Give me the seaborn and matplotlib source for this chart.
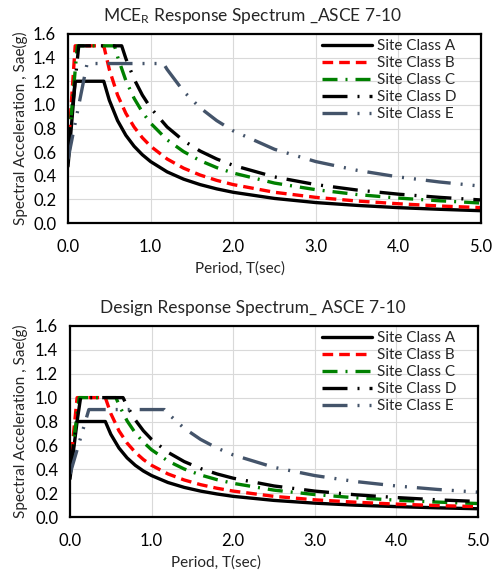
import matplotlib
matplotlib.use("Agg")
import matplotlib.pyplot as plt
import pandas as pd
import seaborn as sns

SITE_CLASSES = ["Site Class A", "Site Class B", "Site Class C", "Site Class D", "Site Class E"]

# Periods (s) and spectral accelerations (g) for each site class
PERIOD_A = [0.0, 0.087, 0.433, 0.5, 0.6, 0.7, 0.8, 0.9, 1.0, 1.2, 1.4, 1.6, 1.8, 2.0, 2.5, 3.0, 3.5, 4.0, 4.5, 5.0]
MCE_A = [0.48, 1.2, 1.2, 1.04, 0.867, 0.743, 0.65, 0.578, 0.52, 0.433, 0.371, 0.325, 0.289, 0.26, 0.208, 0.173, 0.149, 0.13, 0.116, 0.104]
DES_A = [0.32, 0.8, 0.8, 0.693, 0.578, 0.495, 0.433, 0.385, 0.347, 0.289, 0.248, 0.217, 0.193, 0.173, 0.139, 0.116, 0.099, 0.087, 0.077, 0.069]

PERIOD_B = [0.0, 0.087, 0.433, 0.5, 0.6, 0.7, 0.8, 0.9, 1.0, 1.2, 1.4, 1.6, 1.8, 2.0, 2.5, 3.0, 3.5, 4.0, 4.5, 5.0]
MCE_B = [0.6, 1.5, 1.5, 1.3, 1.083, 0.929, 0.813, 0.722, 0.65, 0.542, 0.464, 0.406, 0.361, 0.325, 0.26, 0.217, 0.186, 0.163, 0.144, 0.13]
DES_B = [0.4, 1.0, 1.0, 0.867, 0.722, 0.619, 0.542, 0.481, 0.433, 0.361, 0.31, 0.271, 0.241, 0.217, 0.173, 0.144, 0.124, 0.108, 0.096, 0.087]

PERIOD_C = [0.0, 0.113, 0.563, 0.6, 0.7, 0.8, 0.9, 1.0, 1.2, 1.4, 1.6, 1.8, 2.0, 2.5, 3.0, 3.5, 4.0, 4.5, 5.0]
MCE_C = [0.6, 1.5, 1.5, 1.408, 1.207, 1.056, 0.939, 0.845, 0.704, 0.604, 0.528, 0.469, 0.423, 0.338, 0.282, 0.241, 0.211, 0.188, 0.169]
DES_C = [0.4, 1.0, 1.0, 0.939, 0.805, 0.704, 0.626, 0.563, 0.469, 0.402, 0.352, 0.313, 0.282, 0.225, 0.188, 0.161, 0.141, 0.125, 0.113]

PERIOD_D = [0.0, 0.13, 0.65, 0.7, 0.8, 0.9, 1.0, 1.2, 1.4, 1.6, 1.8, 2.0, 2.5, 3.0, 3.5, 4.0, 4.5, 5.0]
MCE_D = [0.6, 1.5, 1.5, 1.393, 1.219, 1.083, 0.975, 0.813, 0.696, 0.609, 0.542, 0.488, 0.39, 0.325, 0.279, 0.244, 0.217, 0.195]
DES_D = [0.4, 1.0, 1.0, 0.929, 0.813, 0.722, 0.65, 0.542, 0.464, 0.406, 0.361, 0.325, 0.26, 0.217, 0.186, 0.163, 0.144, 0.13]

PERIOD_E = [0.0, 0.231, 1.156, 1.2, 1.4, 1.6, 1.8, 2.0, 2.5, 3.0, 3.5, 4.0, 4.5, 5.0]
MCE_E = [0.54, 1.35, 1.35, 1.3, 1.114, 0.975, 0.867, 0.78, 0.624, 0.52, 0.446, 0.39, 0.347, 0.312]
DES_E = [0.36, 0.9, 0.9, 0.867, 0.743, 0.65, 0.578, 0.52, 0.416, 0.347, 0.297, 0.26, 0.231, 0.208]

X_TICKS = [0.0, 1.0, 2.0, 3.0, 4.0, 5.0]
Y_TICKS = [0.0, 0.2, 0.4, 0.6, 0.8, 1.0, 1.2, 1.4, 1.6]

COLORS = {
    "Site Class A": "#000000",
    "Site Class B": "#FF0000",
    "Site Class C": "#008000",
    "Site Class D": "#000000",
    "Site Class E": "#44546A",
}
DASHES = {
    "Site Class A": "",
    "Site Class B": (3.2, 1.8),
    "Site Class C": (4.5, 2.4, 0.6, 2.4),
    "Site Class D": (7.5, 3.0, 0.6, 3.0),
    "Site Class E": (7.5, 3.0, 0.6, 3.0, 0.6, 3.0),
}


def build_frame(periods, values):
    parts = []
    for name, t, sa in zip(SITE_CLASSES, periods, values):
        parts.append(pd.DataFrame({"T": t, "Sa": sa, "Site": name}))
    return pd.concat(parts, ignore_index=True)


periods = [PERIOD_A, PERIOD_B, PERIOD_C, PERIOD_D, PERIOD_E]
mce = build_frame(periods, [MCE_A, MCE_B, MCE_C, MCE_D, MCE_E])
design = build_frame(periods, [DES_A, DES_B, DES_C, DES_D, DES_E])

sns.set_style("white")
plt.rcParams["font.family"] = ["Lato", "DejaVu Sans"]
plt.rcParams["mathtext.default"] = "regular"

fig = plt.figure(figsize=(4.95, 5.71), dpi=100)
W, H = 495, 571
ax_top = fig.add_axes([68 / W, 1 - 223 / H, (481 - 68) / W, (223 - 34) / H])
ax_bot = fig.add_axes([70 / W, 1 - 517 / H, (478 - 70) / W, (517 - 326) / H])

panels = [
    (ax_top, mce, "MCE$_{R}$ Response Spectrum _ASCE 7-10", 240),
    (ax_bot, design, "Design Response Spectrum_ ASCE 7-10", 216),
]

for ax, df, title, xlabel_px in panels:
    sns.lineplot(data=df, x="T", y="Sa", hue="Site", style="Site",
                 palette=COLORS, dashes=DASHES, linewidth=2.4,
                 estimator=None, sort=False, ax=ax)
    ax.set_xlim(0, 5)
    ax.set_ylim(0, 1.6)
    ax.set_xticks(X_TICKS)
    ax.set_yticks(Y_TICKS)
    ax.set_xticklabels([f"{v:.1f}" for v in X_TICKS], fontsize=12)
    ax.set_yticklabels([f"{v:.1f}" for v in Y_TICKS], fontsize=12)
    ax.grid(True, color="#D9D9D9", linewidth=0.8)
    ax.set_axisbelow(True)
    for s in ax.spines.values():
        s.set_color("black")
        s.set_linewidth(1.6)
    ax.tick_params(axis="both", direction="out", length=3.5, width=0.8,
                   color="#7F7F7F", labelcolor="black")
    ax.tick_params(axis="x", pad=8)
    ax.tick_params(axis="y", pad=5)
    ax.set_xlabel("Period, T(sec)", fontsize=11)
    ax.set_ylabel("Spectral Acceleration , Sae(g)", fontsize=11)
    pos = ax.get_position()
    x0, x1 = pos.x0 * W, pos.x1 * W
    height_px = pos.height * H
    ax.xaxis.set_label_coords((xlabel_px - x0) / (x1 - x0), -38 / height_px)
    ax.yaxis.set_label_coords((28 - x0) / (x1 - x0), 0.5)
    ax.set_title(title, fontsize=12.5, x=(253 - x0) / (x1 - x0), pad=9)

    handles, labels = ax.get_legend_handles_labels()
    ax.legend(handles, labels, loc="upper left",
              bbox_to_anchor=((322 - x0) / (x1 - x0), 1 - 5 / height_px),
              frameon=False, fontsize=11, handlelength=3.3,
              handletextpad=0.3, labelspacing=0.2, borderpad=0.0,
              borderaxespad=0.0)

fig.savefig("out.png", dpi=100)
